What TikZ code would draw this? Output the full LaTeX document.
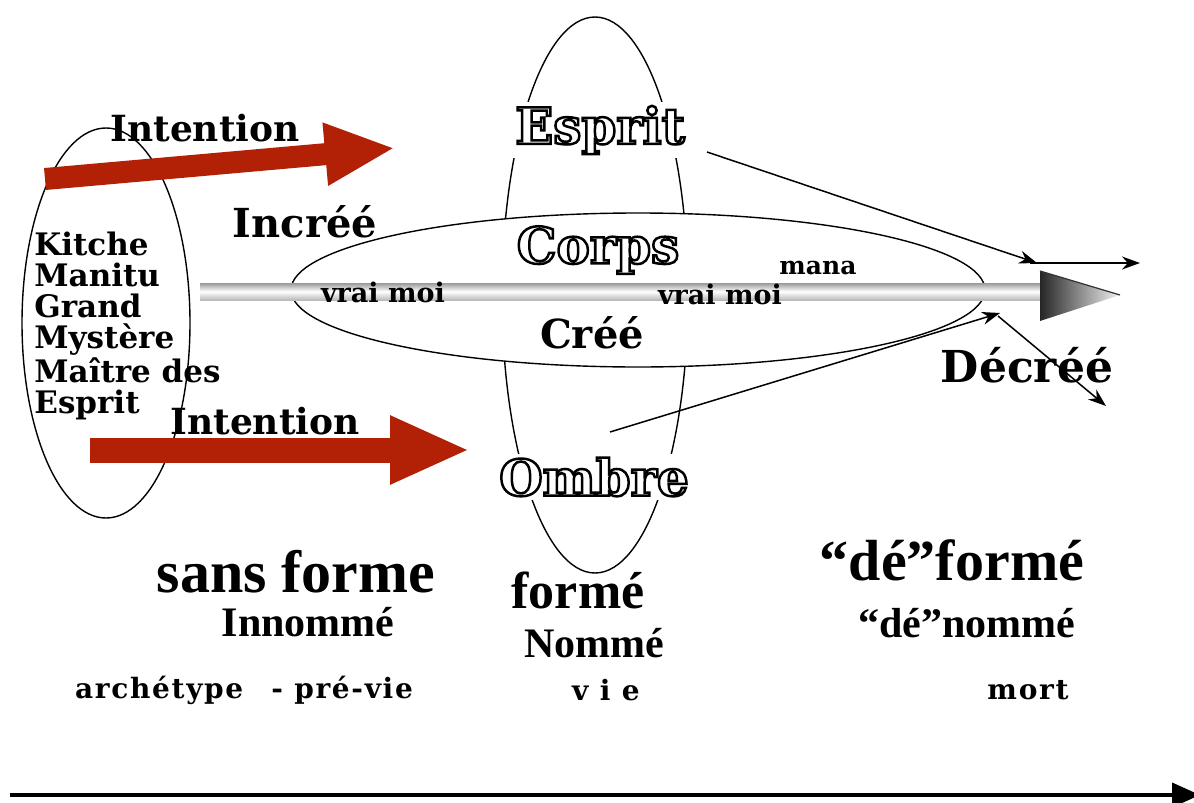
\documentclass[tikz,border=0pt]{standalone}
\usepackage{fontspec}
\setmainfont{DejaVu Serif}
\newfontfamily\tms{Liberation Serif}
\newfontfamily\spaced[LetterSpace=6]{DejaVu Serif}
\usetikzlibrary{arrows.meta,calc}
\definecolor{redarrow}{RGB}{178,32,6}
\newcommand{\outl}[1]{\special{pdf:literal direct 1 Tr 1.25 w}#1\special{pdf:literal direct 0 Tr}}
\begin{document}
\begin{tikzpicture}[x=0.5pt,y=-0.5pt,
  ell/.style={draw=black,line width=0.7pt},
  thinarr/.style={draw=black,line width=0.75pt,-{Stealth[length=9pt,width=6.5pt]}},
  redarr/.style={draw=redarrow},
  big/.style={font=\bfseries\fontsize{#1}{#1}\selectfont, inner sep=1pt},
  small/.style={font=\spaced\bfseries\fontsize{#1}{#1}\selectfont, inner sep=1pt},
  bot/.style={font=\tms\bfseries\fontsize{#1}{#1}\selectfont, inner sep=1pt},
  hollow/.style={font=\bfseries\fontsize{25}{25}\selectfont, inner sep=2pt}
]
\useasboundingbox (0,0) rectangle (1194,803);
\fill[white] (0,0) rectangle (1194,803);

% ellipses
\draw[ell] (595,295) ellipse [x radius=93, y radius=278];
\draw[ell, fill=white] (638,290) ellipse [x radius=347, y radius=77];
\draw[ell] (106,323) ellipse [x radius=84, y radius=195];

% grey shaded arrow
\shade[top color=gray!80, bottom color=gray!55, middle color=white] (200,283) rectangle (1042,300);
\shade[left color=black!85, right color=gray!10] (1040,271) -- (1120,295) -- (1040,321) -- cycle;
\draw[black!80, line width=0.6pt] (1040,271) -- (1120,295);

% red arrows
\coordinate (ta) at (45,179);
\coordinate (tb) at (395,148);
\draw[redarr, line width=11pt, -{Triangle[length=35pt,width=29pt]}] (ta) -- (tb);
\coordinate (ba) at (90,450);
\coordinate (bb) at (470,450);
\draw[redarr, line width=12.5pt, -{Triangle[length=40pt,width=31.5pt]}] (ba) -- (bb);

% texts
\node[big=18] (int1) at (205,128) {Intention};
\node[big=18] (int2) at (265,421) {Intention};
\node[font=\bfseries\fontsize{15.5}{15.5}\selectfont, align=left, anchor=north west, inner sep=0pt] (names) at (34,232)
  {Kitche\\Manitu\\Grand\\Mystère\\Maître des\\Esprit};
\node[big=20] (incree) at (305,222) {Incréé};
\node[hollow, fill=white] (esprit) at (600,130) {\outl{Esprit}};
\node[hollow] (corps) at (598,250) {\outl{Corps}};
\node[hollow, fill=white] (ombre) at (594,477) {\outl{Ombre}};
\node[big=20] (cree) at (592,333) {Créé};
\node[big=22] (decree) at (1027,365) {Décréé};
\node[big=13.5] (vm1) at (383,292) {vrai moi};
\node[big=13.5] (vm2) at (720,294) {vrai moi};
\node[big=12.5] (mana) at (818,268) {mana};

\node[bot=30] (sf) at (296,572) {sans forme};
\node[bot=26] (fo) at (578,590) {formé};
\node[bot=29] (df) at (952,560) {“dé”formé};
\node[bot=21] (inn) at (308,622) {Innommé};
\node[bot=21] (nom) at (594,643) {Nommé};
\node[bot=21] (dn) at (967,623) {“dé”nommé};
\node[small=14] (arch) at (244,690) {archétype\quad - pré-vie};
\node[small=14] (vie) at (606,690) {v i e};
\node[small=14] (mort) at (1028,690) {mort};

% thin black arrows
\coordinate (e1) at (707,152);
\coordinate (e2) at (1037,263);
\draw[thinarr] (e1) -- (e2);
\coordinate (h1) at (1030,263);
\coordinate (h2) at (1140,263);
\draw[thinarr] (h1) -- (h2);
\coordinate (o1) at (610,432);
\coordinate (o2) at (1000,313);
\draw[thinarr] (o1) -- (o2);
\coordinate (d1) at (998,316);
\coordinate (d2) at (1106,406);
\draw[thinarr] (d1) -- (d2);

% time axis
\coordinate (tl) at (10,795);
\coordinate (tr) at (1200,795);
\draw[line width=2pt, -{Triangle[length=14pt,width=12pt]}] (tl) -- (tr);
\end{tikzpicture}
\end{document}
